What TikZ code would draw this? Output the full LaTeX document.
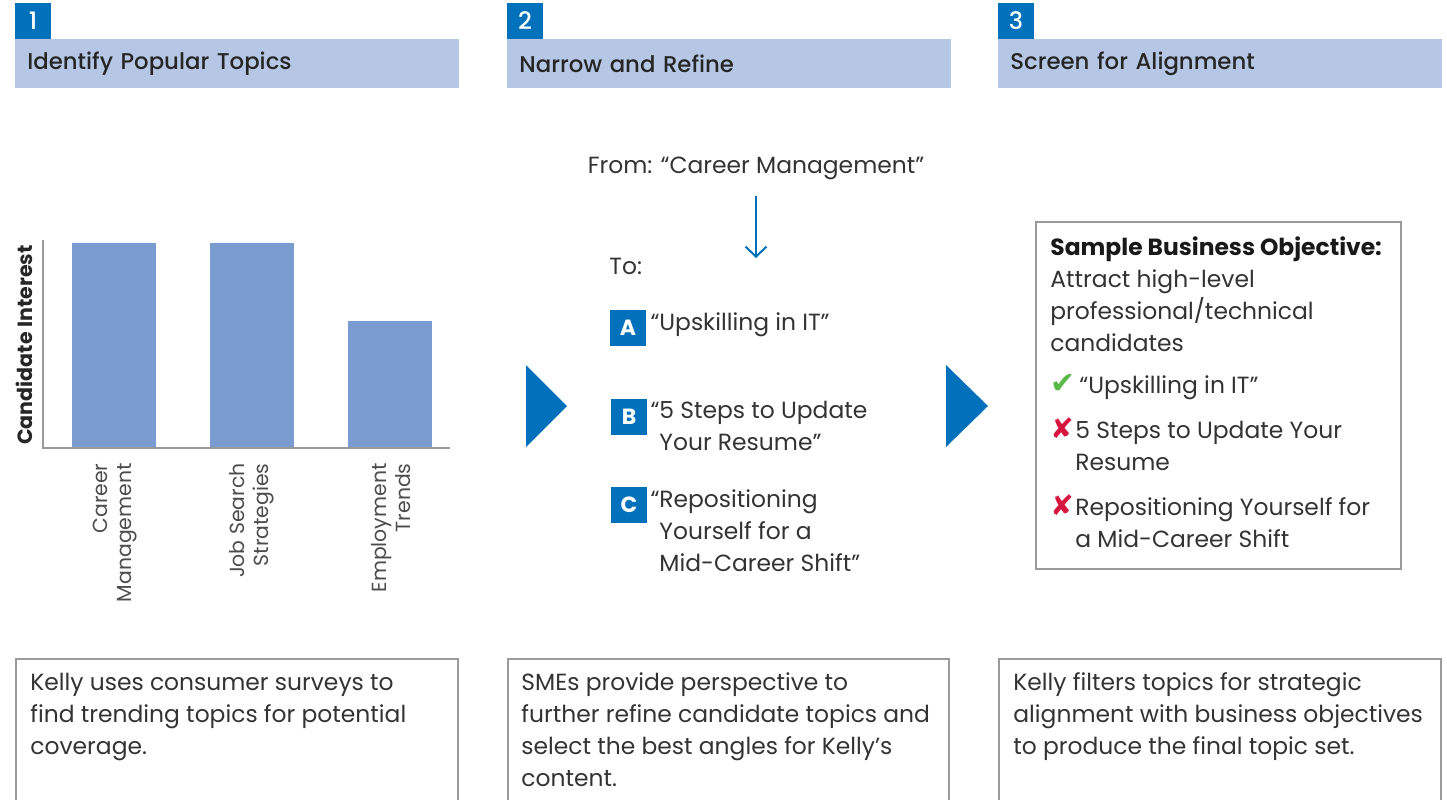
\documentclass[tikz,border=0pt]{standalone}
\usepackage{fontspec}
\setmainfont{Poppins}
\newfontfamily\headfont{Poppins Medium}
\newfontfamily\marksfont{DejaVu Sans}
\usetikzlibrary{arrows.meta,positioning}

\definecolor{stepblue}{HTML}{0071BA}
\definecolor{headblue}{HTML}{B5C7E5}
\definecolor{barblue}{HTML}{7A9CD1}
\definecolor{framegray}{HTML}{9A9A9A}
\definecolor{bodytext}{HTML}{333333}
\definecolor{okgreen}{HTML}{5AB947}
\definecolor{nored}{HTML}{D6163F}

\tikzset{
    every node/.style={inner sep=0pt, text=bodytext, font=\fontsize{11.7}{16}\selectfont},
    numbox/.style={fill=stepblue, text=white, minimum size=18pt, font=\headfont\fontsize{12}{14}\selectfont},
    letterbox/.style={fill=stepblue, text=white, minimum size=18pt, font=\bfseries\fontsize{11}{14}\selectfont},
    header/.style={fill=headblue, anchor=west, minimum height=24.5pt, text width=210pt, inner xsep=6pt,
        align=left, text=black!85, font=\headfont\fontsize{11.4}{14}\selectfont},
    % first baseline sits on the given point (text starts with \strut)
    body/.style={anchor=north west, align=left, yshift=11.2pt},
    framebox/.style={draw=framegray, line width=1pt},
    catlabel/.style={rotate=90, anchor=east, align=right, text=black!70, font=\fontsize{10.2}{12}\selectfont},
    markcheck/.style={anchor=base west, text=okgreen, font=\marksfont\fontsize{15}{16}\selectfont},
    markcross/.style={anchor=base west, text=nored, font=\marksfont\fontsize{14}{16}\selectfont},
}

\begin{document}
\begin{tikzpicture}[x=0.5pt, y=-0.5pt]
\useasboundingbox (0,0) rectangle (1447,799);

% step headers
\node[numbox] (n1) at (33,21) {1};
\node[numbox] (n2) at (525,21) {2};
\node[numbox] (n3) at (1016,21) {3};
\node[header] (h1) at (15,63.5) {Identify Popular Topics};
\node[header] (h2) at (507,63.5) {Narrow and Refine};
\node[header] (h3) at (998,63.5) {Screen for Alignment};

% bar chart
\fill[barblue] (72,243) rectangle (156,448);
\fill[barblue] (210,243) rectangle (294,448);
\fill[barblue] (348,321) rectangle (432,448);
\draw[framegray, line width=1pt] (43,240) -- (43,448) -- (450,448);
\node[rotate=90, text=black!85, font=\bfseries\fontsize{10.3}{14}\selectfont] (yaxis) at (24,345) {Candidate Interest};
\node[catlabel] (c1) at (115,463) {Career\\Management};
\node[catlabel] (c2) at (252,463) {Job Search\\Strategies};
\node[catlabel] (c3) at (391,463) {Employment\\Trends};

% narrowing
\node[anchor=base] (from) at (756,173) {From: “Career Management”};
\coordinate (toend) at (756,258);
\draw[stepblue, line width=1pt, -{Straight Barb[length=5pt, width=10.5pt]}] ([yshift=-8pt]from.south) -- (toend);
\node[body] (to) at (609,274) {\strut To:};
\node[letterbox] (la) at (628,328) {A};
\node[body] (ta) at (659,330) {\strut\llap{“}Upskilling in IT”};
\node[letterbox] (lb) at (629,417) {B};
\node[body] (tb) at (659,418) {\strut\llap{“}5 Steps to Update\\Your Resume”};
\node[letterbox] (lc) at (629,505) {C};
\node[body] (tc) at (659,507) {\strut\llap{“}Repositioning\\Yourself for a\\Mid-Career Shift”};

% step arrows
\fill[stepblue] (526,365) -- (567,406) -- (526,447) -- cycle;
\fill[stepblue] (946,365) -- (988,406) -- (946,447) -- cycle;

% objective box
\node[framebox, minimum width=182.5pt, minimum height=173.5pt] (objbox) at (1218.5,395.5) {};
\node[body] (objtext) at (1050,255) {\strut\textcolor{black!90}{\bfseries Sample Business Objective:}\\Attract high-level\\professional/technical\\candidates};
\node[markcheck] (okmark) at (1050,393) {✔};
\node[body] (ok) at (1079,393) {\strut“Upskilling in IT”};
\node[markcross] (nomark1) at (1050,438) {✘};
\node[body] (no1) at (1075,438) {\strut 5 Steps to Update Your\\Resume};
\node[markcross] (nomark2) at (1050,515) {✘};
\node[body] (no2) at (1075,515) {\strut Repositioning Yourself for\\a Mid-Career Shift};

% descriptions
\node[framebox, anchor=north west, minimum width=221pt, minimum height=100pt] (desc1) at (15,658) {};
\node[framebox, anchor=north west, minimum width=220.5pt, minimum height=100pt] (desc2) at (507,658) {};
\node[framebox, anchor=north west, minimum width=221pt, minimum height=100pt] (desc3) at (998,658) {};
\node[body] (d1) at (30,690) {\strut Kelly uses consumer surveys to\\find trending topics for potential\\coverage.};
\node[body] (d2) at (521,690) {\strut SMEs provide perspective to\\further refine candidate topics and\\select the best angles for Kelly’s\\content.};
\node[body] (d3) at (1013,690) {\strut Kelly filters topics for strategic\\alignment with business objectives\\to produce the final topic set.};
\end{tikzpicture}
\end{document}
